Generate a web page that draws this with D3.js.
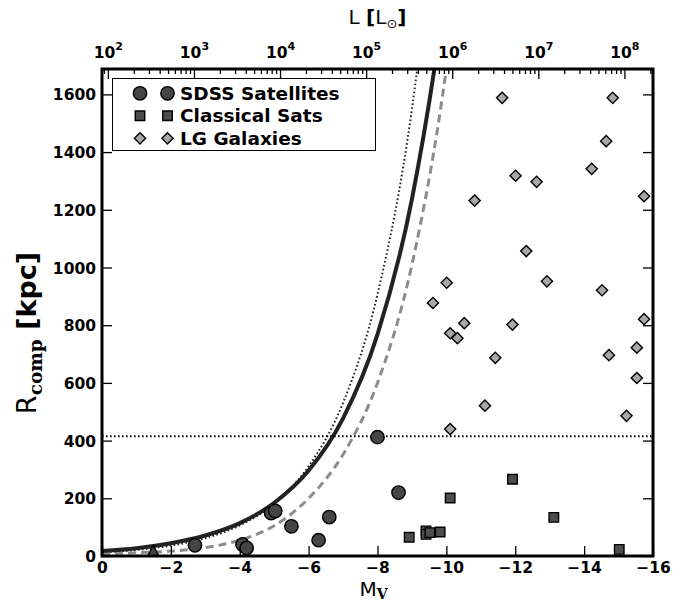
<!DOCTYPE html>
<html>
<head>
<meta charset="utf-8">
<script src="https://cdn.jsdelivr.net/npm/d3@7"></script>
<style>
  body { margin: 0; background: #fff; }
  svg text { font-family: "DejaVu Sans", sans-serif; }
</style>
</head>
<body>
<svg id="chart" width="689" height="605"></svg>
<script>
// SDSS satellites: absolute V magnitude and completeness radius (kpc)
const sdssMv = [-2.70, -4.08, -4.20, -4.91, -5.03, -5.50, -6.29, -6.60, -8.00, -8.61];
const sdssR  = [37, 40, 28, 149, 156, 103, 55, 135, 412, 220];

// single faint object drawn as a triangle
const triMv = [-1.49];
const triR  = [12];

// classical Milky Way satellites
const classicalMv = [-8.92, -9.41, -9.41, -9.52, -9.82, -10.11, -11.92, -13.12, -15.02];
const classicalR  = [65, 87, 75, 81, 83, 201, 266, 134, 23];

// Local Group galaxies
const lgMv = [-11.62, -14.83, -14.64, -14.22, -12.01, -12.62, -10.82, -15.74, -12.32,
              -10.01, -12.92, -9.61, -14.52, -15.74, -10.52, -11.92, -10.11, -10.32,
              -11.42, -14.72, -15.53, -15.53, -11.12, -15.23, -10.11];
const lgR  = [1588, 1588, 1438, 1342, 1318, 1297, 1232, 1247, 1057,
              947, 952, 877, 921, 821, 807, 802, 772, 755,
              687, 696, 722, 617, 521, 486, 440];

// completeness-radius curves sampled in magnitude
const curveMv = [0, -1, -2, -3, -4, -5, -6, -7, -8, -9, -10, -10.5];
const solidR  = [17, 27, 44, 71, 114, 184, 296, 477, 768, 1237, 1990, 2520];
const dottedR = [12.5, 21, 36, 62, 106, 182, 311, 531, 907, 1550, 2650, 3460];
const dashedR = [7, 11, 17, 29, 55, 105, 200, 352, 600, 1010, 1690, 2180];

// horizontal reference radius (kpc)
const limitR = 415;

// axis ticks
const mvTicks = [0, -2, -4, -6, -8, -10, -12, -14, -16];
const rTicks = [0, 200, 400, 600, 800, 1000, 1200, 1400, 1600];
const lumExponents = [2, 3, 4, 5, 6, 7, 8];

const legendNames = ["SDSS Satellites", "Classical Sats", "LG Galaxies"];

const SUN_MV = 4.83;
const lumOf = m => Math.pow(10, (SUN_MV - m) / 2.5);

const svg = d3.select("#chart");
const X0 = 102, X1 = 653, Y0 = 69, Y1 = 556;

const x = d3.scaleLinear().domain([0, -16]).range([X0, X1]);
const y = d3.scaleLinear().domain([0, 1688]).range([Y1, Y0]);
const xL = d3.scaleLog().domain([lumOf(0), lumOf(-16)]).range([X0, X1]);

svg.append("defs").append("clipPath").attr("id", "plotclip")
  .append("rect").attr("x", X0).attr("y", Y0).attr("width", X1 - X0).attr("height", Y1 - Y0);

const plot = svg.append("g").attr("clip-path", "url(#plotclip)");

// curves
const line = arr => d3.line()
  .x((d, i) => x(curveMv[i]))
  .y(d => y(d))
  .curve(d3.curveMonotoneX)(arr);

plot.append("path").attr("d", line(dottedR))
  .attr("fill", "none").attr("stroke", "#222").attr("stroke-width", 2)
  .attr("stroke-dasharray", "1.6,2.4");
plot.append("path").attr("d", line(dashedR))
  .attr("fill", "none").attr("stroke", "#8c8c8c").attr("stroke-width", 3)
  .attr("stroke-dasharray", "8,5");
plot.append("path").attr("d", line(solidR))
  .attr("fill", "none").attr("stroke", "#222").attr("stroke-width", 4);

// reference radius
plot.append("line")
  .attr("x1", X0).attr("x2", X1).attr("y1", y(limitR)).attr("y2", y(limitR))
  .attr("stroke", "#000").attr("stroke-width", 2).attr("stroke-dasharray", "1.6,2.4");

// markers
const sym = {
  circle: d3.symbol().type(d3.symbolCircle).size(Math.PI * 6.7 * 6.7)(),
  square: d3.symbol().type(d3.symbolSquare).size(9.5 * 9.5)(),
  diamond: "M0,-5.6L5.6,0L0,5.6L-5.6,0Z",
  triangle: "M0,-7L7,6L-7,6Z"
};
const styles = [
  { shape: "circle",  fill: "#454545" },
  { shape: "square",  fill: "#4d4d4d" },
  { shape: "diamond", fill: "#a8a8a8" }
];

function drawPoints(mv, r, shape, fill) {
  plot.append("g").selectAll("path").data(mv).join("path")
    .attr("d", sym[shape])
    .attr("transform", (d, i) => `translate(${x(d)},${y(r[i])})`)
    .attr("fill", fill).attr("stroke", "#000").attr("stroke-width", 1.4);
}
drawPoints(triMv, triR, "triangle", "#454545");
drawPoints(sdssMv, sdssR, "circle", styles[0].fill);
drawPoints(classicalMv, classicalR, "square", styles[1].fill);
drawPoints(lgMv, lgR, "diamond", styles[2].fill);

// axes (ticks point inward)
const tickFont = g => g.selectAll("text")
  .attr("font-family", "DejaVu Sans").attr("font-weight", "bold")
  .attr("font-size", 15.5).attr("fill", "#000");

const axisB = svg.append("g").attr("transform", `translate(0,${Y1})`)
  .call(d3.axisBottom(x).tickValues(mvTicks).tickSize(-10).tickPadding(6)
        .tickFormat(d3.format("d")));
axisB.call(tickFont);

const axisL = svg.append("g").attr("transform", `translate(${X0},0)`)
  .call(d3.axisLeft(y).tickValues(rTicks).tickSize(-10).tickPadding(6)
        .tickFormat(d3.format("d")));
axisL.call(tickFont);
axisL.selectAll("text").attr("dy", "0.36em");

svg.append("g").attr("transform", `translate(${X1},0)`)
  .call(d3.axisRight(y).tickValues(rTicks).tickSize(-10).tickFormat(""));

const majorL = lumExponents.map(e => Math.pow(10, e));
const minorL = [];
for (let e = 1; e <= 8; e++) for (let k = 2; k <= 9; k++) {
  const v = k * Math.pow(10, e);
  if (v >= xL.domain()[0] && v <= xL.domain()[1]) minorL.push(v);
}
const axisT = svg.append("g").attr("transform", `translate(0,${Y0})`)
  .call(d3.axisTop(xL).tickValues(majorL).tickSize(-10).tickFormat(""));
svg.append("g").attr("transform", `translate(0,${Y0})`)
  .call(d3.axisTop(xL).tickValues(minorL).tickSize(-5).tickFormat(""));

axisT.selectAll(".tick").append("text")
  .attr("y", -11).attr("text-anchor", "middle")
  .attr("font-weight", "bold").attr("font-size", 15.5).attr("fill", "#000")
  .each(function (d, i) {
    const t = d3.select(this);
    t.append("tspan").text("10");
    t.append("tspan").attr("dy", -8).attr("font-size", 11).text(lumExponents[i]);
  });

svg.selectAll(".domain").remove();
svg.selectAll(".tick line").attr("stroke", "#000").attr("stroke-width", 1.3);

// frame
svg.append("rect").attr("x", X0).attr("y", Y0).attr("width", X1 - X0).attr("height", Y1 - Y0)
  .attr("fill", "none").attr("stroke", "#000").attr("stroke-width", 3);

// axis labels
const xlab = svg.append("text").attr("x", (X0 + X1) / 2 - 4).attr("y", 596)
  .attr("text-anchor", "middle").attr("font-size", 20);
xlab.append("tspan").text("M");
xlab.append("tspan").attr("dy", 3).attr("font-family", "DejaVu Serif")
  .attr("font-weight", "bold").attr("font-size", 14).text("V");

const tlab = svg.append("text").attr("x", (X0 + X1) / 2).attr("y", 24)
  .attr("text-anchor", "middle").attr("font-size", 20);
tlab.append("tspan").text("L ");
tlab.append("tspan").attr("font-weight", "bold").text("[");
tlab.append("tspan").text("L");
tlab.append("tspan").attr("dy", 4).attr("font-size", 13).text("\u2299");
tlab.append("tspan").attr("dy", -4).attr("font-weight", "bold").text("]");

const ylab = svg.append("text")
  .attr("transform", `translate(36,333) rotate(-90)`)
  .attr("text-anchor", "middle").attr("font-size", 27);
ylab.append("tspan").text("R");
ylab.append("tspan").attr("dy", 6).attr("font-family", "DejaVu Serif")
  .attr("font-weight", "bold").attr("font-size", 18.5).text("comp");
ylab.append("tspan").attr("dy", -6).attr("font-weight", "bold").text(" [kpc]");

// legend
const leg = svg.append("g");
leg.append("rect").attr("x", 112.5).attr("y", 78.5).attr("width", 263).attr("height", 72)
  .attr("fill", "#fff").attr("stroke", "#000").attr("stroke-width", 1);
legendNames.forEach((name, i) => {
  const cy = 93.3 + i * 22.5;
  [140, 167.5].forEach(cx => {
    leg.append("path").attr("d", sym[styles[i].shape])
      .attr("transform", `translate(${cx},${cy})`)
      .attr("fill", styles[i].fill).attr("stroke", "#000").attr("stroke-width", 1.4);
  });
  leg.append("text").attr("x", 180).attr("y", cy + 6.5)
    .attr("font-weight", "bold").attr("font-size", 18.5).text(name);
});
</script>
</body>
</html>
